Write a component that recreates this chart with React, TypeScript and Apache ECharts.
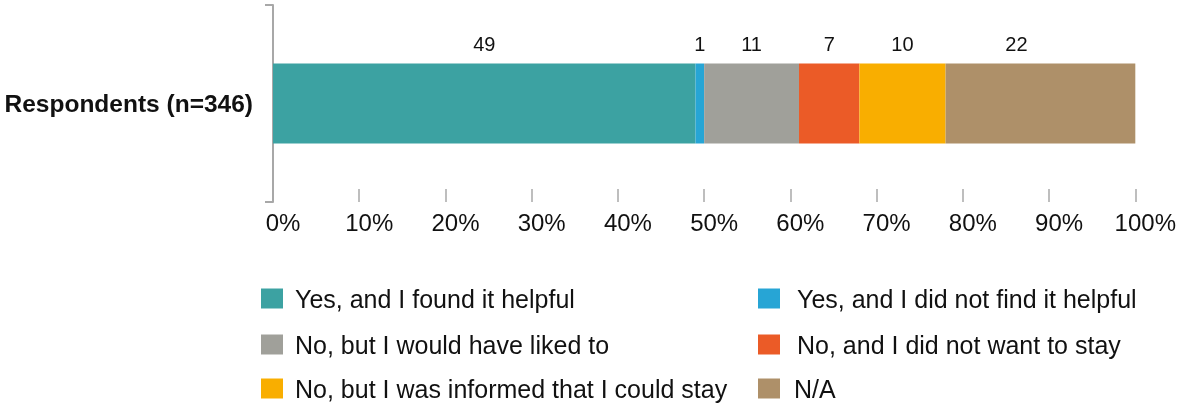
import React, { useEffect, useRef } from "react";
import * as echarts from "echarts";

const categories = ["Respondents (n=346)"];
const seriesNames = [
  "Yes, and I found it helpful",
  "Yes, and I did not find it helpful",
  "No, but I would have liked to",
  "No, and I did not want to stay",
  "No, but I was informed that I could stay",
  "N/A",
];
const seriesValues = [49, 1, 11, 7, 10, 22];
const seriesColors = ["#3CA2A2", "#27A5D5", "#A0A09A", "#EB5B27", "#F9AE00", "#AE9069"];
const labelOffsets = [0, 0, 0, 0, 0, -24];
const legendLefts = [261, 758, 261, 758, 261, 758];
const legendTops = [286, 286, 332, 332, 376, 376];
const legendTextPad = [7, 12, 7, 12, 7, 9];
const FONT = "Helvetica, Arial, 'Liberation Sans', sans-serif";

export default function App() {
  const ref = useRef<HTMLDivElement>(null);
  useEffect(() => {
    if (!ref.current) return;
    const chart = echarts.init(ref.current, null, { renderer: "svg" });
    chart.setOption({
      animation: false,
      textStyle: { fontFamily: FONT },
      grid: { left: 273, right: 42, top: 5, bottom: 201, containLabel: false },
      xAxis: {
        type: "value",
        min: 0,
        max: 100,
        interval: 10,
        axisLine: { show: false },
        splitLine: { show: false },
        axisTick: { show: true, inside: true, length: 13, lineStyle: { color: "#a8a8a8", width: 1.5 } },
        axisLabel: {
          formatter: "{value}%",
          fontSize: 24,
          color: "#111",
          fontFamily: FONT,
          margin: 8,
          padding: [0, 0, 0, 20],
        },
      },
      yAxis: {
        type: "category",
        data: categories,
        axisLine: { show: true, lineStyle: { color: "#a8a8a8", width: 2 } },
        axisTick: { show: true, length: 8, lineStyle: { color: "#a8a8a8", width: 2 } },
        axisLabel: { fontSize: 24.5, fontWeight: "bold", color: "#111", margin: 20, fontFamily: FONT },
      },
      legend: seriesNames.map((name, i) => ({
        orient: "horizontal",
        left: legendLefts[i],
        top: legendTops[i],
        padding: 0,
        itemWidth: 22,
        itemHeight: 20,
        icon: "rect",
        selectedMode: false,
        data: [name],
        textStyle: { fontSize: 25, color: "#111", fontFamily: FONT, padding: [0, 0, 0, legendTextPad[i]] },
      })),
      series: seriesNames.map((name, i) => ({
        name,
        type: "bar",
        stack: "total",
        barWidth: 80,
        data: [seriesValues[i]],
        itemStyle: { color: seriesColors[i] },
        label: {
          show: true,
          position: "top",
          distance: 10,
          offset: [labelOffsets[i], 0],
          fontSize: 20,
          color: "#111",
          fontFamily: FONT,
        },
      })),
    });
    return () => chart.dispose();
  }, []);
  return <div ref={ref} style={{ position: "fixed", left: 0, top: 0, width: 1179, height: 403 }} />;
}
